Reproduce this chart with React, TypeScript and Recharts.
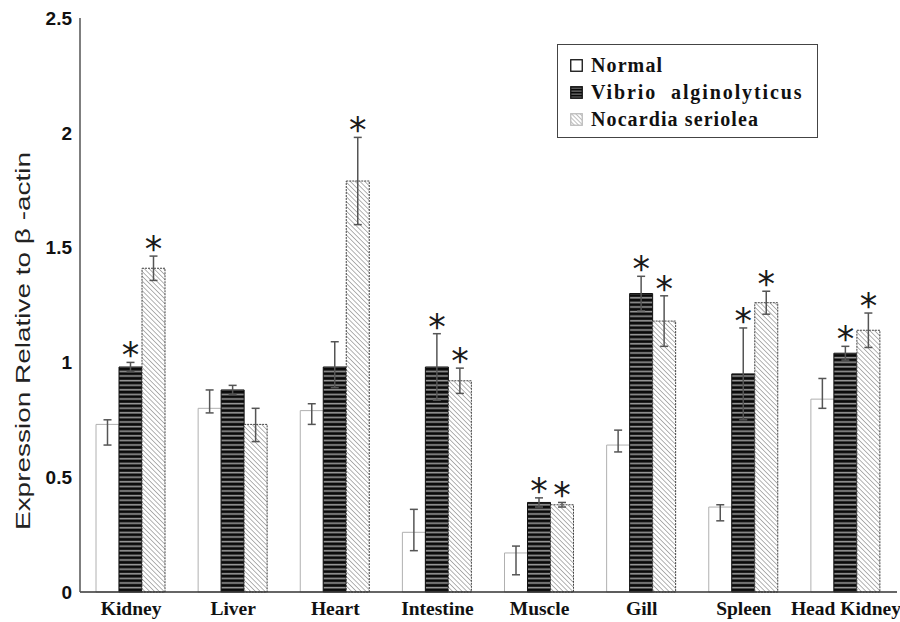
import React from "react";
import { BarChart, Bar, XAxis, YAxis, ErrorBar, LabelList, Legend } from "recharts";

const tissues = ["Kidney", "Liver", "Heart", "Intestine", "Muscle", "Gill", "Spleen", "Head Kidney"];
const seriesNames = ["Normal", "Vibrio  alginolyticus", "Nocardia seriolea"];

// mean expression, error as [minus, plus]
const normal = [0.73, 0.8, 0.79, 0.26, 0.17, 0.64, 0.37, 0.84];
const normalErr = [[0.09, 0.02], [0.02, 0.08], [0.06, 0.03], [0.08, 0.1], [0.095, 0.03], [0.03, 0.065], [0.06, 0.01], [0.04, 0.09]];
const vibrio = [0.98, 0.88, 0.98, 0.98, 0.39, 1.3, 0.95, 1.04];
const vibrioErr = [[0.02, 0.02], [0.02, 0.02], [0.09, 0.11], [0.145, 0.145], [0.02, 0.02], [0.075, 0.075], [0.2, 0.2], [0.03, 0.03]];
const nocardia = [1.41, 0.73, 1.79, 0.92, 0.38, 1.18, 1.26, 1.14];
const nocardiaErr = [[0.053, 0.053], [0.075, 0.07], [0.19, 0.19], [0.055, 0.055], [0.01, 0.01], [0.11, 0.11], [0.05, 0.05], [0.075, 0.075]];
const vibrioSig = [true, false, false, true, true, true, true, true];
const nocardiaSig = [true, false, true, true, true, true, true, true];
const yTicks = [0, 0.5, 1, 1.5, 2, 2.5];

const rows = tissues.map((t, i) => ({
  tissue: t,
  normal: normal[i],
  normalErr: normalErr[i],
  vibrio: vibrio[i],
  vibrioErr: vibrioErr[i],
  vibrioStar: vibrioSig[i] ? "*" : "",
  nocardia: nocardia[i],
  nocardiaErr: nocardiaErr[i],
  nocardiaStar: nocardiaSig[i] ? "*" : "",
}));

const starLabel = (vals: number[], errs: number[][]) => (props: any) => {
  const { x, y, width, height, index, value } = props;
  if (!value) return null;
  const perUnit = Number(height) / vals[index];
  const top = Number(y) - errs[index][1] * perUnit;
  return (
    <text x={Number(x) + Number(width) / 2} y={top + 5} textAnchor="middle" fontFamily="DejaVu Sans" fontSize={35} fill="#1a1a1a">
      {value}
    </text>
  );
};

const Swatch = ({ kind }: { kind: number }) => (
  <svg width={13} height={13} style={{ marginRight: 8, flex: "none" }}>
    <defs>
      <pattern id="lgStripe" width="4" height="3" patternUnits="userSpaceOnUse">
        <rect width="4" height="3" fill="#0a0a0a" />
        <rect y="1.6" width="4" height="1" fill="#8c8c8c" />
      </pattern>
      <pattern id="lgHatch" width="3" height="3" patternUnits="userSpaceOnUse" patternTransform="rotate(-45)">
        <rect width="3" height="3" fill="#fff" />
        <line x1="0" y1="0" x2="0" y2="3" stroke="#999" strokeWidth="1.3" />
      </pattern>
    </defs>
    <rect
      x={0.75}
      y={0.75}
      width={11.5}
      height={11.5}
      fill={kind === 0 ? "#fff" : kind === 1 ? "url(#lgStripe)" : "url(#lgHatch)"}
      stroke={kind === 2 ? "#bbb" : "#111"}
      strokeWidth={1.3}
    />
  </svg>
);

const LegendBox = () => (
  <div style={{ padding: "7px 0 0 12px" }}>
    {seriesNames.map((name, i) => (
      <div key={name} style={{ display: "flex", alignItems: "center", height: 27 }}>
        <Swatch kind={i} />
        <span
          style={{
            fontFamily: "Liberation Serif",
            fontWeight: "bold",
            fontSize: 20,
            letterSpacing: i === 1 ? 1.9 : 1.1,
            whiteSpace: "pre",
            color: "#111",
          }}
        >
          {name}
        </span>
      </div>
    ))}
  </div>
);

const YLabel = () => (
  <text
    x={22}
    y={341}
    transform="rotate(-90, 22, 341)"
    textAnchor="middle"
    dominantBaseline="central"
    fontFamily="Liberation Sans"
    fontSize={21}
    fill="#222"
    textLength={378}
    lengthAdjust="spacingAndGlyphs"
  >
    Expression Relative to β -actin
  </text>
);

export default function App() {
  return (
    <div style={{ position: "absolute", left: 0, top: 0, width: 900, height: 622, background: "#fff" }}>
      <BarChart
        width={900}
        height={622}
        data={rows}
        margin={{ top: 18, right: 3, bottom: 0, left: 0 }}
        barCategoryGap={16}
        barGap={0}
      >
        <defs>
          <pattern id="vStripe" width="6" height="4.6" patternUnits="userSpaceOnUse">
            <rect width="6" height="4.6" fill="#0a0a0a" />
            <rect y="2.6" width="6" height="1.6" fill="#9a9a9a" />
          </pattern>
          <pattern id="nHatch" width="3.4" height="3.4" patternUnits="userSpaceOnUse" patternTransform="rotate(-45)">
            <rect width="3.4" height="3.4" fill="#fff" />
            <line x1="0" y1="0" x2="0" y2="3.4" stroke="#8a8a8a" strokeWidth="1.3" />
          </pattern>
        </defs>
        <XAxis
          dataKey="tissue"
          height={30}
          tickLine={false}
          axisLine={{ stroke: "#333", strokeWidth: 1.5 }}
          tickMargin={3}
          interval={0}
          tick={{ fontFamily: "Liberation Serif", fontWeight: "bold", fontSize: 19.5, fill: "#111" }}
        />
        <YAxis
          width={80}
          domain={[0, 2.5]}
          ticks={yTicks}
          tickLine={false}
          tickSize={0}
          tickMargin={8}
          axisLine={{ stroke: "#555", strokeWidth: 1.5 }}
          tick={{ fontFamily: "Liberation Sans", fontWeight: "bold", fontSize: 19, fill: "#111" }}
          label={{ content: () => <YLabel /> }}
        />
        <Legend
          layout="horizontal"
          verticalAlign="middle"
          align="center"
          content={() => <LegendBox />}
          wrapperStyle={{
            left: 557,
            top: 44,
            width: 261,
            height: 94,
            border: "1.5px solid #444",
            boxSizing: "border-box",
            background: "#fff",
          }}
        />
        <Bar dataKey="normal" name={seriesNames[0]} fill="#fff" stroke="#b0b0b0" strokeWidth={1} isAnimationActive={false}>
          <ErrorBar dataKey="normalErr" width={4} stroke="#555" strokeWidth={1.5} />
        </Bar>
        <Bar dataKey="vibrio" name={seriesNames[1]} fill="url(#vStripe)" stroke="#111" strokeWidth={1} isAnimationActive={false}>
          <ErrorBar dataKey="vibrioErr" width={4} stroke="#555" strokeWidth={1.5} />
          <LabelList dataKey="vibrioStar" content={starLabel(vibrio, vibrioErr)} />
        </Bar>
        <Bar
          dataKey="nocardia"
          name={seriesNames[2]}
          fill="url(#nHatch)"
          stroke="#444"
          strokeWidth={1}
          strokeDasharray="2 1"
          isAnimationActive={false}
        >
          <ErrorBar dataKey="nocardiaErr" width={4} stroke="#555" strokeWidth={1.5} />
          <LabelList dataKey="nocardiaStar" content={starLabel(nocardia, nocardiaErr)} />
        </Bar>
      </BarChart>
    </div>
  );
}
